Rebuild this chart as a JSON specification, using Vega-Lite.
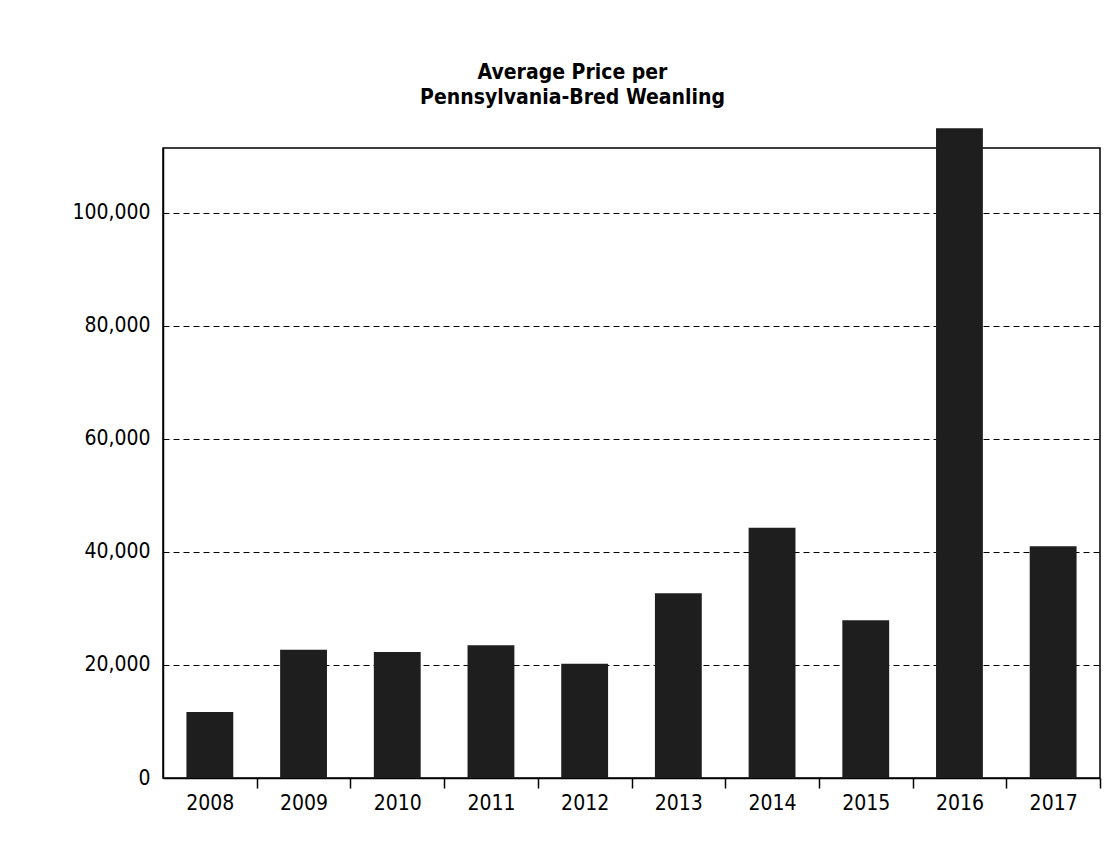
{
  "$schema": "https://vega.github.io/schema/vega-lite/v6.json",
  "width": 937,
  "height": 630,
  "autosize": "none",
  "padding": {"left": 163, "top": 148, "right": 17, "bottom": 70},
  "background": "white",
  "title": {
    "text": ["Average Price per", "Pennsylvania-Bred Weanling"],
    "font": "DejaVu Sans Condensed, sans-serif",
    "fontSize": 21,
    "fontWeight": "bold",
    "color": "#000",
    "anchor": "middle",
    "offset": 20,
    "lineHeight": 25,
    "dx": -59
  },
  "data": {
    "values": [
      {"year": "2008", "price": 11700},
      {"year": "2009", "price": 22700},
      {"year": "2010", "price": 22300},
      {"year": "2011", "price": 23500},
      {"year": "2012", "price": 20200},
      {"year": "2013", "price": 32700},
      {"year": "2014", "price": 44300},
      {"year": "2015", "price": 27900},
      {"year": "2016", "price": 115000},
      {"year": "2017", "price": 41000}
    ]
  },
  "mark": {"type": "bar", "color": "#1e1e1e", "clip": false},
  "encoding": {
    "x": {
      "field": "year",
      "type": "ordinal",
      "scale": {"paddingInner": 0.5, "paddingOuter": 0.25},
      "axis": {
        "title": null,
        "labelAngle": 0,
        "labelFont": "DejaVu Sans Condensed, sans-serif",
        "labelFontSize": 21,
        "labelColor": "#000",
        "labelPadding": 4,
        "tickOffset": 46.85,
        "labelOffset": -46.85,
        "tickSize": 10,
        "tickColor": "#000",
        "tickWidth": 1.5,
        "domainColor": "#000",
        "domainWidth": 1.5
      }
    },
    "y": {
      "field": "price",
      "type": "quantitative",
      "scale": {"domain": [0, 111500], "nice": false},
      "axis": {
        "title": null,
        "values": [0, 20000, 40000, 60000, 80000, 100000],
        "format": ",d",
        "labelFont": "DejaVu Sans Condensed, sans-serif",
        "labelFontSize": 21,
        "labelColor": "#000",
        "labelPadding": 13,
        "ticks": false,
        "domainColor": "#000",
        "domainWidth": 1.5,
        "grid": true,
        "gridColor": "#000",
        "gridDash": [6, 4],
        "gridWidth": 1
      }
    }
  },
  "config": {
    "view": {"stroke": "#000", "strokeWidth": 1.5}
  }
}
